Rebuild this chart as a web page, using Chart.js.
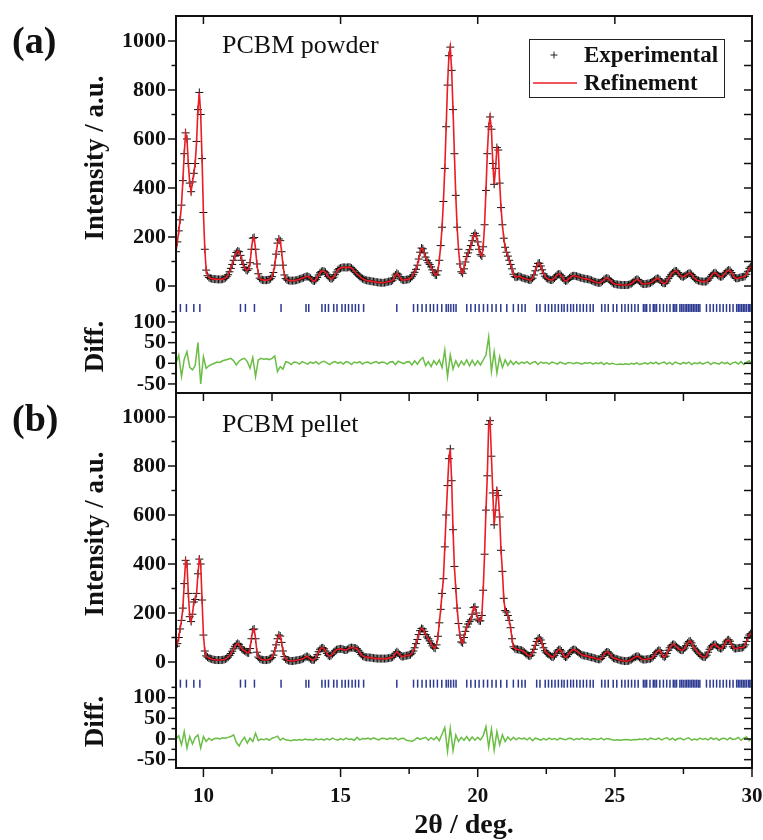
<!DOCTYPE html>
<html>
<head>
<meta charset="utf-8">
<script src="https://cdn.jsdelivr.net/npm/chart.js@4.4.1/dist/chart.umd.min.js"></script>
<style>
  html, body { margin: 0; padding: 0; background: #fff; }
  #wrap { position: relative; width: 763px; height: 840px; overflow: hidden; }
  canvas { position: absolute; left: 0; }
  #powderChart { top: 0; }
  #pelletChart { top: 380px; }
</style>
</head>
<body>
<div id="wrap">
  <canvas id="powderChart" width="763" height="400"></canvas>
  <canvas id="pelletChart" width="763" height="460"></canvas>
</div>
<script>
// 2theta grid of the patterns (deg)
const twoThetaStart = 9;
const intensityStep = 0.05;
const diffStep = 0.1;

// PCBM powder, intensity, 9.00 .. 30.00 every 0.05 deg
const powderIntensity = [
  140,180,225,270,330,430,540,625,600,500,420,385,425,460,500,590,720,790,700,520,
  300,150,65,42,35,32,30,29,28,28,27,27,27,27,28,30,33,38,46,58,
  72,88,105,122,137,143,140,125,105,88,75,66,63,70,95,150,195,198,150,90,
  50,32,27,25,24,24,24,25,26,30,38,55,85,130,175,192,185,140,85,45,
  30,25,23,22,22,22,22,23,24,26,28,30,32,34,37,39,39,37,32,26,
  21,21,26,35,45,54,59,61,60,56,48,39,33,30,31,36,46,57,66,71,
  73,75,76,76,75,76,77,76,73,68,62,55,49,44,39,34,30,27,25,23,
  22,21,20,19,18,17,16,15,14,14,13,13,14,15,16,18,19,20,24,32,
  45,52,48,38,29,25,24,25,26,27,28,32,38,46,56,68,85,110,138,155,
  152,135,118,105,95,88,78,66,54,45,45,62,105,165,240,345,480,650,820,940,
  975,880,720,540,370,240,150,90,58,52,70,98,120,135,148,165,185,205,215,205,
  180,150,128,122,160,250,390,540,650,690,640,500,415,480,565,555,420,320,250,195,
  158,138,122,105,88,70,48,38,36,38,40,38,35,33,31,30,28,26,24,26,
  32,45,62,80,92,93,82,66,50,40,33,30,27,25,24,27,33,40,46,49,
  48,42,33,25,21,22,27,33,38,41,42,41,40,38,36,34,33,31,30,29,
  28,27,25,23,20,18,16,14,13,13,15,20,26,30,32,31,27,20,14,10,
  8,7,6,5,5,4,4,4,4,4,5,7,10,14,19,24,27,26,20,13,
  9,8,8,9,10,11,13,16,20,25,29,31,30,24,16,12,11,12,20,30,
  38,46,53,58,62,61,55,47,41,38,38,41,45,49,52,52,47,39,32,27,
  24,22,20,19,18,18,18,19,24,32,40,47,52,54,51,45,40,38,38,42,
  49,56,62,65,63,55,45,37,32,31,32,34,36,37,38,40,48,60,72,78,
  80
];

// PCBM pellet, intensity, 9.00 .. 30.00 every 0.05 deg
const pelletIntensity = [
  65,75,100,135,170,220,320,415,400,280,185,165,195,245,255,280,360,420,400,253,
  110,45,25,20,16,14,12,10,9,8,8,8,8,8,9,10,12,15,20,27,
  35,44,54,64,72,76,72,62,54,49,46,42,38,37,55,95,132,135,95,40,
  20,14,11,9,8,8,8,9,10,13,18,28,45,70,95,110,106,80,45,22,
  12,8,6,5,4,4,5,6,7,8,9,10,12,15,19,22,22,18,13,9,
  8,10,18,30,42,52,57,58,54,45,35,27,24,26,32,40,46,50,52,53,
  54,53,51,49,49,51,55,58,59,58,57,56,54,48,40,31,25,22,20,19,
  19,18,18,17,16,15,15,14,14,14,14,14,14,14,15,16,17,18,20,26,
  36,42,38,30,24,22,23,25,26,27,28,30,36,45,58,75,92,112,128,137,
  135,125,112,102,95,86,76,66,58,56,70,105,160,215,280,340,470,600,720,830,
  870,740,540,390,300,220,157,110,82,78,100,125,143,155,165,172,195,222,225,200,
  175,168,168,190,293,440,620,760,970,985,840,690,560,620,700,680,592,456,370,260,
  210,204,190,170,140,95,62,55,52,52,50,49,48,45,40,35,30,26,24,28,
  38,52,68,84,95,98,90,75,58,46,38,34,30,25,21,20,26,36,45,50,
  51,45,34,24,20,22,30,38,45,49,51,50,46,41,36,32,29,27,26,25,
  24,22,20,19,18,16,14,12,11,11,14,22,30,37,41,41,36,28,20,16,
  14,13,11,9,7,6,5,4,4,4,5,7,10,14,18,21,23,23,19,14,
  11,10,10,11,12,13,14,16,22,30,38,44,48,46,36,25,20,24,35,48,
  58,66,71,72,68,62,56,52,49,48,50,57,67,77,84,86,78,66,56,49,
  44,37,30,25,22,20,21,28,40,52,61,67,71,72,68,61,57,55,56,62,
  72,82,89,91,85,72,62,56,55,56,57,58,58,59,62,70,84,98,110,116,
  118
];

// difference curves, 9.0 .. 30.0 every 0.1 deg
const powderDiff = [
  0,20,-32,10,28,-10,-16,-5,50,-50,
  16,-12,-6,-3,0,3,2,6,8,10,
  12,6,-4,5,10,12,4,-12,14,-32,
  8,12,10,11,9,12,18,-20,-8,-14,
  4,2,-3,3,2,-2,4,1,-2,3,
  0,4,-2,3,5,1,-3,2,4,0,
  3,-2,4,2,-3,3,1,4,-2,2,
  3,-1,2,4,0,3,2,-2,3,4,
  -3,5,2,-1,3,4,-4,6,-2,8,
  14,-6,4,-8,6,-3,8,-10,32,-32,
  20,-14,6,-8,5,-4,8,-6,7,-5,
  6,-4,8,20,64,-20,28,-24,16,-10,
  8,-5,6,-3,4,-2,3,0,4,-2,
  2,4,-3,3,0,2,-2,3,1,-2,
  3,0,-2,2,1,-1,2,0,-2,1,
  0,2,-2,1,-1,2,-3,1,-2,0,
  -2,-3,-2,-3,-1,-3,0,-2,1,-3,
  -1,1,-2,2,-1,3,-2,1,3,-2,
  2,-3,3,0,-2,2,-1,3,-3,1,
  -1,2,-2,1,3,-3,2,0,-2,3,
  -1,2,-3,1,3,-2,4,-3,2,6,
  -4
];

const pelletDiff = [
  0,8,-14,18,-22,6,-12,4,10,-22,
  6,-6,2,-3,1,2,0,3,2,4,
  6,10,-8,-17,-4,4,-10,2,-6,14,
  -4,0,-2,1,-3,2,4,7,-3,2,
  -2,-3,-4,-2,-3,-1,-3,0,-2,-1,
  -3,1,-2,0,-3,1,-2,2,-1,-3,
  1,-2,2,-1,0,-3,4,-2,1,0,
  2,-1,3,0,-2,2,1,-1,2,0,
  3,-2,1,2,-3,-4,-6,-2,3,-1,
  2,4,-3,3,-2,5,-4,12,28,-30,
  26,-28,10,-6,4,-3,6,-4,5,-3,
  4,-2,8,30,-20,24,-27,18,-14,10,
  -6,5,-3,4,-2,3,0,2,-2,3,
  -4,2,0,-3,1,-2,2,-1,1,-2,
  2,0,-2,1,2,-2,1,-1,2,-1,
  1,-2,1,0,-1,2,-2,1,0,-2,
  -3,-2,-3,-2,-1,-2,-3,-1,-2,0,
  -1,1,-2,2,0,-1,2,-2,1,3,
  -2,2,-3,1,2,-2,1,3,-3,0,
  -2,2,-1,1,-2,3,-1,2,-3,1,
  2,-2,3,-1,0,4,-3,2,5,-4,
  3
];

// Bragg reflection positions (deg), same phase in both panels
const braggPositions = [
  9.16,9.38,9.65,9.87,11.35,11.53,11.86,12.83,13.74,13.84,
  14.32,14.44,14.56,14.75,14.87,15.05,15.17,15.29,15.42,15.54,15.66,15.84,
  17.05,17.66,17.81,17.97,18.12,18.27,18.39,18.53,18.69,18.85,18.93,19.02,19.12,19.21,
  19.6,19.75,19.91,20.05,20.21,20.36,20.52,20.67,20.84,21.06,21.3,21.48,21.61,21.73,
  22.15,22.27,22.46,22.58,22.7,22.82,22.94,23.06,23.15,23.27,23.39,23.49,23.61,23.73,23.85,23.97,24.1,24.21,
  24.52,24.64,24.76,24.94,25.07,25.25,25.37,25.49,25.61,25.73,25.85,26.04,26.1,26.16,26.28,26.4,26.46,26.52,
  26.64,26.77,26.89,27.01,27.13,27.19,27.25,27.37,27.43,27.49,27.56,27.62,27.68,27.74,27.8,27.86,27.92,27.98,
  28.04,28.1,28.34,28.47,28.59,28.71,28.83,28.95,29.07,29.19,29.31,29.44,29.5,29.56,29.62,29.68,29.74,29.8,
  29.87,29.92,29.97
];
const braggLevel = 134; // in Diff. units

// tick values
const xMajorTicks = [10, 15, 20, 25, 30];
const xMinorTicks = [12.5, 17.5, 22.5, 27.5];
const intensityTicks = [0, 100, 200, 300, 400, 500, 600, 700, 800, 900, 1000];
const diffTicksLeft = [-50, -25, 0, 25, 50, 75, 100, 125];
const diffTicksRight = [-50, -25, 0, 25, 50, 75, 100];

const serif = '"Liberation Serif", "Times New Roman", serif';
const ink = '#111';

function toPoints(values, step) {
  return values.map((v, i) => ({ x: +(twoThetaStart + i * step).toFixed(2), y: v }));
}

// frame with inward/outward tick marks like the Origin original
const framePlugin = {
  id: 'frame',
  afterDraw(chart, args, opts) {
    const { ctx, chartArea: { left, right, top, bottom }, scales } = chart;
    const line = (x1, y1, x2, y2) => {
      ctx.beginPath();
      ctx.moveTo(x1, y1);
      ctx.lineTo(x2, y2);
      ctx.stroke();
    };
    ctx.save();
    ctx.strokeStyle = ink;
    ctx.lineWidth = 1.5;
    intensityTicks.forEach(v => {
      const p = scales.y.getPixelForValue(v);
      line(left - (v % 200 === 0 ? 8 : 4.5), p, left, p);
      line(right - 8, p, right, p);
    });
    diffTicksLeft.forEach(v => {
      const p = scales.yd.getPixelForValue(v);
      line(left - (v % 50 === 0 ? 8 : 4.5), p, left, p);
    });
    diffTicksRight.forEach(v => {
      const p = scales.yd.getPixelForValue(v);
      line(right - 8, p, right, p);
    });
    const topTicks = opts.topMinor ? xMajorTicks.concat(xMinorTicks) : xMajorTicks;
    topTicks.forEach(v => {
      const p = scales.x.getPixelForValue(v);
      line(p, top, p, top + 8);
    });
    if (opts.bottomTicks) {
      xMajorTicks.forEach(v => {
        const p = scales.x.getPixelForValue(v);
        line(p, bottom, p, bottom + 9);
      });
      xMinorTicks.forEach(v => {
        const p = scales.x.getPixelForValue(v);
        line(p, bottom, p, bottom + 6);
      });
    }
    ctx.lineWidth = 2;
    ctx.strokeRect(left, top, right - left, bottom - top);
    ctx.restore();
  }
};

// panel letter, sample name and legend box
const annotatePlugin = {
  id: 'annotate',
  afterDraw(chart, args, o) {
    const ctx = chart.ctx;
    ctx.save();
    ctx.fillStyle = ink;
    ctx.textBaseline = 'middle';
    ctx.font = 'bold 38px ' + serif;
    ctx.fillText(o.panel, 12, o.panelY);
    ctx.font = '26px ' + serif;
    ctx.fillText(o.sample, 222, o.sampleY);
    if (o.legend) {
      ctx.strokeStyle = '#222';
      ctx.lineWidth = 1;
      ctx.strokeRect(529.5, 39.5, 195, 58);
      ctx.beginPath();
      ctx.moveTo(550.5, 55); ctx.lineTo(557.5, 55);
      ctx.moveTo(554, 51.5); ctx.lineTo(554, 58.5);
      ctx.stroke();
      ctx.strokeStyle = '#ec1c24';
      ctx.lineWidth = 1.6;
      ctx.beginPath();
      ctx.moveTo(533, 83); ctx.lineTo(577, 83);
      ctx.stroke();
      ctx.font = 'bold 23px ' + serif;
      ctx.fillText('Experimental', 584, 56);
      ctx.fillText('Refinement', 584, 84);
    }
    ctx.restore();
  }
};

// keep the plot box exactly where the original has it
function fixWidth(s) {
  s.width = 176;
  s.paddingTop = 0;
  s.paddingBottom = 0;
}
function fixHeight(s) {
  s.height = 72;
  s.paddingLeft = 0;
  s.paddingRight = 0;
}

function makePanel(canvasId, intensity, diff, o) {
  const tickFont = { family: serif, size: 22, weight: 'bold' };
  const titleFont = { family: serif, size: 27, weight: 'bold' };
  const xScale = o.showX ? {
    type: 'linear', min: 9, max: 30, position: 'bottom',
    grid: { display: false, drawTicks: false },
    border: { display: false },
    ticks: { stepSize: 5, includeBounds: false, padding: 16, color: ink,
             font: { family: serif, size: 21, weight: 'bold' } },
    title: { display: true, text: '2θ / deg.', color: ink,
             font: { family: serif, size: 28, weight: 'bold', lineHeight: 1 },
             padding: { top: 0, bottom: 0 } },
    afterFit: fixHeight
  } : { type: 'linear', min: 9, max: 30, display: false };

  return new Chart(document.getElementById(canvasId), {
    type: 'scatter',
    data: {
      datasets: [
        { label: 'Refinement', data: toPoints(intensity, intensityStep), showLine: true,
          borderColor: '#ec1c24', borderWidth: 1.6, pointRadius: 0, yAxisID: 'y', order: 0 },
        { label: 'Experimental', data: toPoints(intensity, intensityStep), showLine: false,
          pointStyle: 'cross', pointRadius: 4, pointBorderColor: ink, pointBorderWidth: 1,
          yAxisID: 'y', order: 1 },
        { label: 'Bragg', data: braggPositions.map(p => ({ x: p, y: braggLevel })), showLine: false,
          pointStyle: 'line', pointRotation: 90, pointRadius: 4, pointBorderColor: '#2b3990',
          pointBorderWidth: 1.5, yAxisID: 'yd', order: 2 },
        { label: 'Diff', data: toPoints(diff, diffStep), showLine: true,
          borderColor: '#6abd45', borderWidth: 1.5, pointRadius: 0, yAxisID: 'yd', order: 3 }
      ]
    },
    options: {
      responsive: false,
      animation: false,
      events: [],
      layout: { padding: o.padding },
      plugins: {
        legend: { display: false },
        tooltip: { enabled: false },
        frame: { topMinor: o.topMinor, bottomTicks: o.showX },
        annotate: o.annotate
      },
      scales: {
        x: xScale,
        y: {
          position: 'left', stack: 'panel', stackWeight: o.mainHeight, weight: 1,
          min: o.yMin, max: o.yMax,
          grid: { display: false, drawTicks: false },
          border: { display: false },
          ticks: { stepSize: 200, includeBounds: false, autoSkip: false, padding: 10, color: ink,
                   font: tickFont, callback: v => (v <= 1000 ? v : '') },
          title: { display: true, text: 'Intensity / a.u.', color: ink, font: titleFont,
                   padding: { top: 80, bottom: 0 } },
          afterFit: fixWidth
        },
        yd: {
          type: 'linear', position: 'left', stack: 'panel', stackWeight: o.diffHeight, weight: 0,
          min: o.dMin, max: o.dMax,
          grid: { display: false, drawTicks: false },
          border: { display: false },
          ticks: { stepSize: 50, includeBounds: false, autoSkip: false, padding: 10, color: ink,
                   font: tickFont, callback: v => (v <= 100 ? v : '') },
          title: { display: true, text: 'Diff.', color: ink, font: titleFont,
                   padding: { top: 80, bottom: 0 } },
          afterFit: fixWidth
        }
      }
    },
    plugins: [framePlugin, annotatePlugin]
  });
}

makePanel('powderChart', powderIntensity, powderDiff, {
  showX: false, topMinor: false,
  padding: { top: 16, right: 11, bottom: 7, left: 0 },
  mainHeight: 284, diffHeight: 93,
  yMin: -57.1, yMax: 1102, dMin: -71.9, dMax: 153.2,
  annotate: { panel: '(a)', panelY: 43, sample: 'PCBM powder', sampleY: 46, legend: true }
});

makePanel('pelletChart', pelletIntensity, pelletDiff, {
  showX: true, topMinor: true,
  padding: { top: 13, right: 11, bottom: 0, left: 0 },
  mainHeight: 282, diffHeight: 93,
  yMin: -53, yMax: 1098, dMin: -70.2, dMax: 154.9,
  annotate: { panel: '(b)', panelY: 41, sample: 'PCBM pellet', sampleY: 45, legend: false }
});
</script>
</body>
</html>
